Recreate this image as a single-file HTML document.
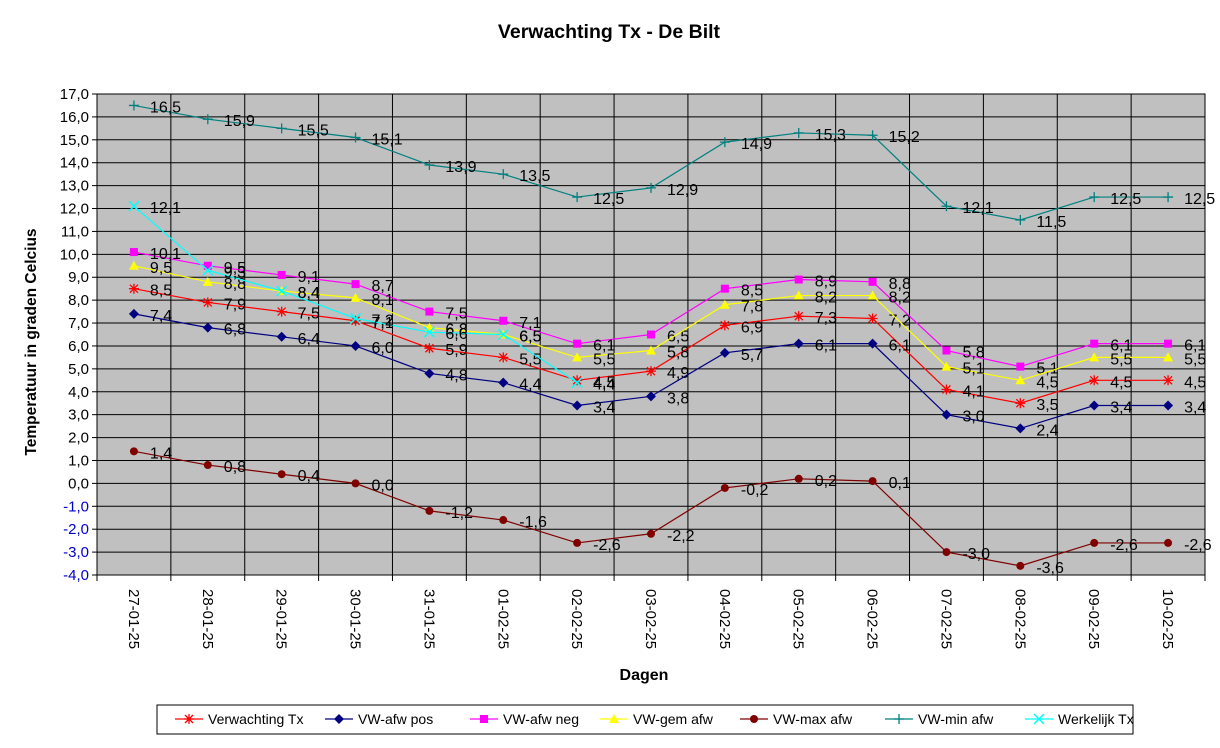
<!DOCTYPE html>
<html><head><meta charset="utf-8"><style>
body{margin:0;background:#fff;font-family:"Liberation Sans",Arial,sans-serif}
svg text{font-family:"Liberation Sans",Arial,sans-serif}
</style></head><body>
<svg id="chart" width="1220" height="743" viewBox="0 0 1220 743">
<text x="609" y="38" text-anchor="middle" font-size="19.5" font-weight="bold">Verwachting Tx - De Bilt</text>
<rect x="97" y="94" width="1108" height="481" fill="#c0c0c0"/>
<g id="grid"></g><g id="axes"></g><g id="series"></g>
<text transform="translate(36,342) rotate(-90)" text-anchor="middle" font-size="15.5" font-weight="bold">Temperatuur in graden Celcius</text>
<text x="644" y="680" text-anchor="middle" font-size="16" font-weight="bold">Dagen</text>
<rect x="157" y="705" width="976" height="29" fill="#fff" stroke="#000"/>
<g id="legend"></g>
</svg>
<script>
const categories=["27-01-25","28-01-25","29-01-25","30-01-25","31-01-25","01-02-25","02-02-25","03-02-25","04-02-25","05-02-25","06-02-25","07-02-25","08-02-25","09-02-25","10-02-25"];
const verwachting=[8.5,7.9,7.5,7.1,5.9,5.5,4.5,4.9,6.9,7.3,7.2,4.1,3.5,4.5,4.5];
const afwPos=[7.4,6.8,6.4,6.0,4.8,4.4,3.4,3.8,5.7,6.1,6.1,3.0,2.4,3.4,3.4];
const afwNeg=[10.1,9.5,9.1,8.7,7.5,7.1,6.1,6.5,8.5,8.9,8.8,5.8,5.1,6.1,6.1];
const gemAfw=[9.5,8.8,8.4,8.1,6.8,6.5,5.5,5.8,7.8,8.2,8.2,5.1,4.5,5.5,5.5];
const maxAfw=[1.4,0.8,0.4,0.0,-1.2,-1.6,-2.6,-2.2,-0.2,0.2,0.1,-3.0,-3.6,-2.6,-2.6];
const minAfw=[16.5,15.9,15.5,15.1,13.9,13.5,12.5,12.9,14.9,15.3,15.2,12.1,11.5,12.5,12.5];
const werkelijk=[12.1,9.3,8.4,7.2,6.6,6.5,4.4];
const yTicks=[-4,-3,-2,-1,0,1,2,3,4,5,6,7,8,9,10,11,12,13,14,15,16,17];
const series=[
 {name:"Verwachting Tx",data:verwachting,color:"#ff0000",m:"star",id:"verwachting-tx"},
 {name:"VW-afw pos",data:afwPos,color:"#000080",m:"diamond",id:"vw-afw-pos"},
 {name:"VW-afw neg",data:afwNeg,color:"#ff00ff",m:"square",id:"vw-afw-neg"},
 {name:"VW-gem afw",data:gemAfw,color:"#ffff00",m:"triangle",id:"vw-gem-afw"},
 {name:"VW-max afw",data:maxAfw,color:"#800000",m:"circle",id:"vw-max-afw"},
 {name:"VW-min afw",data:minAfw,color:"#008080",m:"plus",id:"vw-min-afw"},
 {name:"Werkelijk Tx",data:werkelijk,color:"#00ffff",m:"x",id:"werkelijk-tx"}];
const NS="http://www.w3.org/2000/svg";
const X0=97,W=1108,Y0=94,H=481,YMIN=-4,YMAX=17;
const bw=W/categories.length;
const xs=i=>X0+bw*(i+0.5);
const ys=v=>Y0+H*(YMAX-v)/(YMAX-YMIN);
function mk(t,a,p){const e=document.createElementNS(NS,t);for(const k in a)e.setAttribute(k,a[k]);p.appendChild(e);return e;}
const grid=document.getElementById('grid'),axes=document.getElementById('axes'),sg=document.getElementById('series'),lg=document.getElementById('legend');
yTicks.forEach(v=>{
 const l=mk('line',{x1:X0,x2:X0+W,y1:ys(v),y2:ys(v),stroke:'#000','stroke-width':1},grid);
 
 
 mk('line',{x1:X0-5,x2:X0,y1:ys(v),y2:ys(v),stroke:'#000'},axes);
 const t=mk('text',{x:X0-8,y:ys(v)+5,'text-anchor':'end','font-size':15,fill:v<0?'#0000cc':'#000'},axes);
 t.textContent=v.toFixed(1).replace('.',',');
 
 
});
for(let i=0;i<=categories.length;i++){
 const x=X0+bw*i;
 const l=mk('line',{x1:x,x2:x,y1:Y0,y2:Y0+H+6,stroke:'#000'},grid);
 
 
}
categories.forEach((c,i)=>{
 const t=mk('text',{transform:`translate(${xs(i)-5},${Y0+H+14}) rotate(90)`,'font-size':15},axes);
 t.textContent=c;
 
 
});
mk('rect',{x:X0,y:Y0,width:W,height:H,fill:'none',stroke:'#000'},axes);
function marker(m,x,y,c,p){
 const s=5;
 if(m==='star'){mk('path',{d:`M${x-s} ${y}H${x+s}M${x} ${y-s}V${y+s}M${x-4} ${y-4}L${x+4} ${y+4}M${x-4} ${y+4}L${x+4} ${y-4}`,stroke:c,'stroke-width':1.3},p);}
 else if(m==='diamond')mk('path',{d:`M${x} ${y-5}L${x+5} ${y}L${x} ${y+5}L${x-5} ${y}Z`,fill:c},p);
 else if(m==='square')mk('rect',{x:x-4,y:y-4,width:8,height:8,fill:c},p);
 else if(m==='triangle')mk('path',{d:`M${x} ${y-5}L${x+5} ${y+4}L${x-5} ${y+4}Z`,fill:c},p);
 else if(m==='circle')mk('circle',{cx:x,cy:y,r:4,fill:c},p);
 else if(m==='plus')mk('path',{d:`M${x-5} ${y}H${x+5}M${x} ${y-5}V${y+5}`,stroke:c,'stroke-width':1.3},p);
 else if(m==='x')mk('path',{d:`M${x-5} ${y-5}L${x+5} ${y+5}M${x-5} ${y+5}L${x+5} ${y-5}`,stroke:c,'stroke-width':1.5},p);
}
series.forEach(s=>{
 const g=mk('g',{},sg);
 
 
 const pl=mk('polyline',{points:s.data.map((v,i)=>xs(i)+','+ys(v)).join(' '),fill:'none',stroke:s.color,'stroke-width':1.2},g);
 
 
 s.data.forEach((v,i)=>{
  marker(s.m,xs(i),ys(v),s.color,g);
  const t=mk('text',{x:xs(i)+16,y:ys(v)+7,'font-size':16},g);
  t.textContent=v.toFixed(1).replace('.',',');
  
  
 });
});
const lx=[175,325,470,600,740,885,1025];
series.forEach((s,i)=>{
 const g=mk('g',{},lg);
 
 
 mk('line',{x1:lx[i],x2:lx[i]+28,y1:719,y2:719,stroke:s.color,'stroke-width':1.2},g);
 marker(s.m,lx[i]+14,719,s.color,g);
 const t=mk('text',{x:lx[i]+33,y:724,'font-size':14},g);
 t.textContent=s.name;
});
</script>
</body></html>
